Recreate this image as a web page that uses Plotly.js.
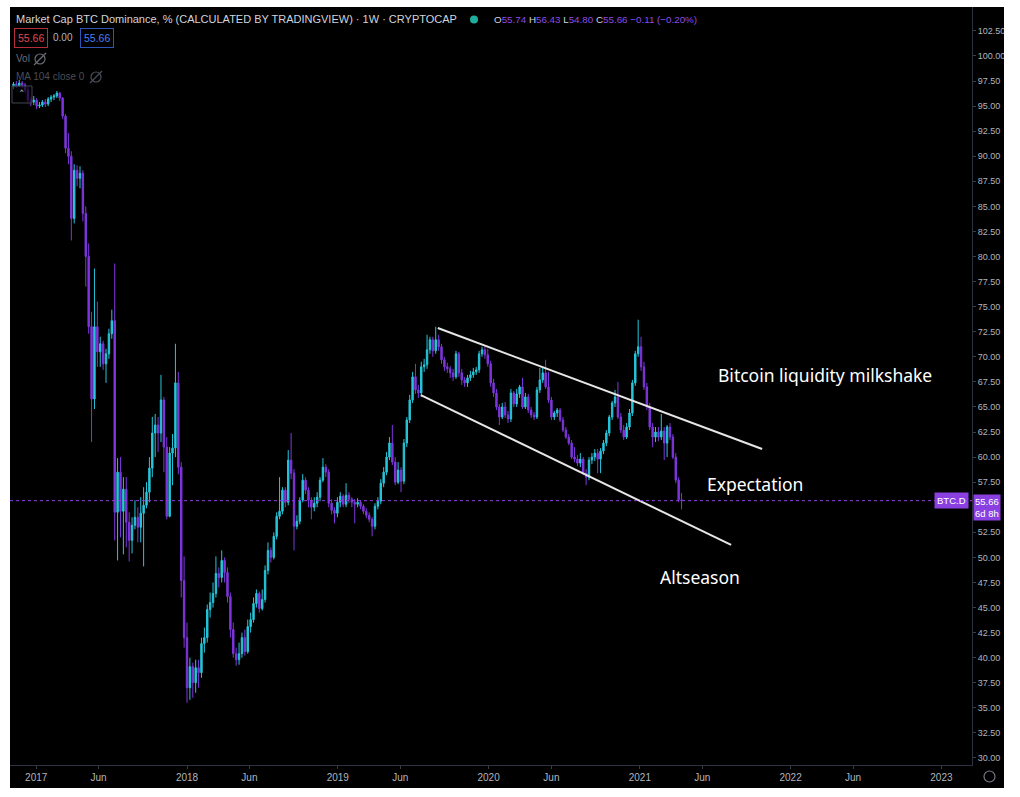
<!DOCTYPE html>
<html>
<head>
<meta charset="utf-8">
<script src="https://cdn.plot.ly/plotly-3.0.1.min.js"></script>
<style>
  html, body { margin: 0; padding: 0; background: #ffffff; width: 1020px; height: 797px; overflow: hidden; }
  #chart { position: absolute; left: 10px; top: 7px; width: 994px; height: 781px; background: #000; }
</style>
</head>
<body>
<div id="chart"></div>
<script>
// Weekly candles, first candle week of 2016-11-07
const firstWeek = '2016-11-07';
const openV = [96.9,97.2,97.0,97.3,97.1,96.6,95.6,95.4,95.6,95.0,95.1,95.4,95.2,95.7,95.9,96.0,96.3,95.8,94.0,90.8,90.0,83.8,88.6,87.8,88.3,84.3,80.0,73.0,65.8,73.0,70.5,71.3,69.3,70.3,72.3,73.6,54.5,58.5,54.6,56.8,53.5,51.7,53.2,54.0,53.0,54.4,55.2,56.5,58.9,62.4,63.2,62.4,65.7,61.0,54.1,60.4,60.9,67.4,59.0,47.7,42.0,37.0,39.1,37.5,39.0,38.5,41.4,42.0,44.8,45.5,46.4,48.4,48.0,49.7,48.5,46.1,42.8,40.4,39.8,40.4,42.0,40.6,43.1,43.8,45.4,46.4,44.9,45.8,48.7,50.7,50.0,52.1,54.1,54.6,56.7,55.5,59.7,58.4,53.1,53.6,55.7,57.7,56.7,55.7,55.0,55.4,56.0,57.7,59.0,58.5,55.4,54.7,54.4,55.5,56.1,55.3,56.2,55.8,55.5,55.3,55.5,55.1,54.6,54.2,53.8,53.1,55.1,55.6,57.4,58.5,60.0,61.4,59.5,57.5,58.7,57.6,61.4,63.7,65.7,68.0,66.7,66.4,69.0,69.2,70.7,71.7,70.6,71.7,71.0,69.7,69.0,68.8,68.4,68.0,70.3,68.4,67.7,67.4,67.9,68.2,68.5,68.7,70.3,70.7,70.2,69.3,67.4,66.4,65.0,64.0,65.0,64.2,63.8,66.4,65.3,66.3,67.0,65.0,66.0,64.7,64.2,64.0,66.7,67.7,68.4,67.0,65.7,64.0,64.4,64.7,63.7,62.7,62.0,61.4,60.0,59.8,59.4,59.8,58.4,58.0,59.7,60.0,60.4,59.8,60.6,61.4,62.4,64.0,65.4,66.0,64.0,62.7,62.0,63.0,64.4,67.4,70.3,71.0,69.0,67.0,65.0,63.0,62.0,62.5,62.0,62.6,61.4,63.0,62.0,60.0,57.7,55.74];
const highV = [97.4,97.5,97.6,97.5,97.3,96.9,95.9,96.0,95.8,95.4,95.6,95.7,95.9,96.1,96.2,96.5,96.4,95.9,94.2,92.3,90.5,89.2,89.1,89.0,88.6,85.0,81.3,74.5,78.8,75.5,72.0,71.6,70.8,72.8,74.7,79.3,59.9,60.0,58.0,58.0,54.5,54.0,55.7,55.0,56.0,57.0,57.5,60.0,64.0,64.3,64.0,68.2,66.0,62.0,61.0,62.3,71.3,68.5,59.5,50.1,43.5,40.0,39.5,39.8,39.8,42.0,43.0,45.3,46.5,47.5,50.1,49.0,50.7,50.0,49.0,46.5,43.5,41.0,41.5,42.5,42.8,43.8,44.5,46.0,46.8,46.6,46.8,49.2,51.5,51.0,52.5,54.5,58.0,57.0,57.0,60.7,62.4,58.8,54.2,56.0,58.3,58.0,57.0,56.0,56.0,56.5,58.0,59.9,59.3,58.8,55.8,55.0,56.0,56.5,56.3,57.4,56.5,56.0,55.8,55.9,55.7,55.3,54.9,54.5,54.0,55.4,56.0,57.8,59.0,60.5,62.0,63.2,60.0,59.5,59.0,61.8,64.0,66.2,68.5,69.3,67.2,69.5,69.8,72.2,72.0,72.0,73.0,72.2,71.3,70.0,69.4,69.1,68.8,70.6,70.5,68.8,68.0,68.2,68.6,68.9,69.0,70.6,71.0,71.0,70.8,69.6,67.8,66.8,65.3,65.4,65.5,64.6,66.8,66.6,66.8,67.2,67.9,66.4,66.3,65.0,64.5,67.0,68.9,68.9,69.7,68.5,66.0,64.6,64.9,64.9,64.0,63.0,62.3,61.7,61.0,60.2,60.4,60.0,58.8,60.0,60.4,60.8,60.8,60.9,61.7,62.7,64.2,65.6,66.7,67.5,64.4,63.2,63.4,64.8,67.7,70.6,73.7,72.0,69.5,67.4,65.4,63.4,63.0,63.0,64.3,63.0,63.2,63.4,62.3,60.4,58.0,56.43];
const lowV = [96.7,96.8,96.9,96.8,96.3,95.3,95.0,95.1,94.7,94.8,94.9,94.9,95.0,95.4,95.6,95.8,95.5,93.7,90.3,89.2,81.6,83.3,87.0,86.8,83.5,77.0,72.3,61.5,64.8,69.0,69.0,68.7,67.4,69.8,71.8,51.7,49.7,52.0,50.3,51.0,49.6,50.4,52.8,51.5,51.5,49.1,54.9,55.5,58.0,60.0,60.5,61.5,58.5,53.8,54.0,57.2,60.0,58.3,46.0,41.0,35.5,35.8,36.0,36.5,37.0,38.0,40.5,41.5,44.0,45.0,46.0,47.0,47.5,47.5,45.5,42.0,40.0,39.2,39.3,40.0,40.2,40.4,42.5,43.5,45.0,44.5,44.7,45.5,48.3,49.5,49.8,51.8,53.8,54.3,55.0,55.2,57.8,50.7,52.8,53.3,55.5,56.3,55.0,53.8,54.6,55.0,55.6,57.5,58.0,55.0,54.3,53.4,54.0,55.0,55.0,55.0,55.4,55.0,53.4,55.0,54.8,54.3,53.9,53.5,52.1,52.8,54.8,55.3,57.0,58.2,59.7,59.2,57.2,57.3,56.5,57.3,61.0,63.4,65.4,66.3,65.9,66.0,68.5,68.8,70.3,70.0,70.3,70.6,69.3,68.6,68.4,67.9,67.6,67.8,68.0,67.2,67.0,67.0,67.6,67.9,68.2,68.4,70.0,69.8,69.0,67.0,66.0,64.7,63.2,63.8,63.9,63.4,63.5,65.0,65.0,65.9,64.8,64.8,64.4,63.9,63.7,63.8,66.4,67.4,66.8,65.4,63.7,63.7,64.0,63.5,62.5,61.8,61.2,59.8,59.5,59.1,59.0,58.2,57.2,57.7,59.3,59.6,58.4,58.4,60.3,61.1,62.1,63.7,65.0,63.8,62.4,61.7,61.8,62.7,64.1,67.1,70.0,68.6,66.7,64.7,62.7,61.0,61.5,61.6,61.7,59.7,60.0,61.7,59.8,57.4,55.5,54.80];
const closeV = [97.2,97.0,97.3,97.1,96.6,95.6,95.4,95.6,95.0,95.1,95.4,95.2,95.7,95.9,96.0,96.3,95.8,94.0,90.8,90.0,83.8,88.6,87.8,88.3,84.3,80.0,73.0,65.8,73.0,70.5,71.3,69.3,70.3,72.3,73.6,54.5,58.5,54.6,56.8,53.5,51.7,53.2,54.0,53.0,54.4,55.2,56.5,58.9,62.4,63.2,62.4,65.7,61.0,54.1,60.4,60.9,67.4,59.0,47.7,42.0,37.0,39.1,37.5,39.0,38.5,41.4,42.0,44.8,45.5,46.4,48.4,48.0,49.7,48.5,46.1,42.8,40.4,39.8,40.4,42.0,40.6,43.1,43.8,45.4,46.4,44.9,45.8,48.7,50.7,50.0,52.1,54.1,54.6,56.7,55.5,59.7,58.4,53.1,53.6,55.7,57.7,56.7,55.7,55.0,55.4,56.0,57.7,59.0,58.5,55.4,54.7,54.4,55.5,56.1,55.3,56.2,55.8,55.5,55.3,55.5,55.1,54.6,54.2,53.8,53.1,55.1,55.6,57.4,58.5,60.0,61.4,59.5,57.5,58.7,57.6,61.4,63.7,65.7,68.0,66.7,66.4,69.0,69.2,70.7,71.7,70.6,71.7,71.0,69.7,69.0,68.8,68.4,68.0,70.3,68.4,67.7,67.4,67.9,68.2,68.5,68.7,70.3,70.7,70.2,69.3,67.4,66.4,65.0,64.0,65.0,64.2,63.8,66.4,65.3,66.3,67.0,65.0,66.0,64.7,64.2,64.0,66.7,67.7,68.4,67.0,65.7,64.0,64.4,64.7,63.7,62.7,62.0,61.4,60.0,59.8,59.4,59.8,58.4,58.0,59.7,60.0,60.4,59.8,60.6,61.4,62.4,64.0,65.4,66.0,64.0,62.7,62.0,63.0,64.4,67.4,70.3,71.0,69.0,67.0,65.0,63.0,62.0,62.5,62.0,62.6,61.4,63.0,62.0,60.0,57.7,55.74,55.66];

// Drawn channel (annotation lines)
const upperChannelDates = ['2019-08-31', '2021-10-24'];
const upperChannelValues = [72.87, 60.81];
const lowerChannelDates = ['2019-07-21', '2021-08-10'];
const lowerChannelValues = [66.19, 51.24];

// Axis ticks (55.00 sits under the last-price label)
const xTickVals = ['2017-01-01','2017-06-01','2018-01-01','2018-06-01','2019-01-01','2019-06-01','2020-01-01','2020-06-01','2021-01-01','2021-06-01','2022-01-01','2022-06-01','2023-01-01'];
const xTickText = ['2017','Jun','2018','Jun','2019','Jun','2020','Jun','2021','Jun','2022','Jun','2023'];
const yTickVals = [30,32.5,35,37.5,40,42.5,45,47.5,50,52.5,57.5,60,62.5,65,67.5,70,72.5,75,77.5,80,82.5,85,87.5,90,92.5,95,97.5,100,102.5];
const lastPrice = 55.66;

// weekly dates
const dates = [];
{
  const d0 = new Date(firstWeek + 'T00:00:00Z');
  for (let i = 0; i < closeV.length; i++) {
    const d = new Date(d0.getTime() + i * 7 * 86400000);
    dates.push(d.toISOString().slice(0, 10));
  }
}

const UP = '#26c6da';
const DOWN = '#7e36dc';
const PURPLE = '#8a3fe0';

const traces = [
  {
    type: 'candlestick',
    x: dates, open: openV, high: highV, low: lowV, close: closeV,
    increasing: { line: { color: UP, width: 1 }, fillcolor: UP },
    decreasing: { line: { color: DOWN, width: 1 }, fillcolor: DOWN },
    whiskerwidth: 0,
    hoverinfo: 'skip',
    showlegend: false
  },
  {
    type: 'scatter', mode: 'lines', x: upperChannelDates, y: upperChannelValues,
    line: { color: '#e6e6e6', width: 2 }, hoverinfo: 'skip', showlegend: false
  },
  {
    type: 'scatter', mode: 'lines', x: lowerChannelDates, y: lowerChannelValues,
    line: { color: '#e6e6e6', width: 2 }, hoverinfo: 'skip', showlegend: false
  }
];

// pixel helpers (page pixels -> paper fraction); plot area spans page x 10..972, y 7..765
const px = v => (v - 10) / 962;
const py = v => (765 - v) / 758;

const hdrFont = 'Liberation Sans, Arial, sans-serif';
const annFont = 'Noto Sans, Open Sans, sans-serif';
const NUM = '#8e4be6';

const annotations = [
  { xref: 'paper', yref: 'paper', x: px(14), y: py(19), xanchor: 'left', yanchor: 'middle', showarrow: false,
    text: 'Market Cap BTC Dominance, % (CALCULATED BY TRADINGVIEW) · 1W · CRYPTOCAP',
    font: { family: hdrFont, size: 11, color: '#d1d4dc' } },
  { xref: 'paper', yref: 'paper', x: px(492), y: py(19), xanchor: 'left', yanchor: 'middle', showarrow: false,
    text: 'O<span style="color:' + NUM + '">55.74</span> H<span style="color:' + NUM + '">56.43</span> L<span style="color:' + NUM + '">54.80</span> C<span style="color:' + NUM + '">55.66</span> <span style="color:' + NUM + '">−0.11 (−0.20%)</span>',
    font: { family: hdrFont, size: 9.8, color: '#d1d4dc' } },
  { xref: 'paper', yref: 'paper', x: px(30.5), y: py(38), xanchor: 'center', yanchor: 'middle', showarrow: false,
    text: '55.66', font: { family: hdrFont, size: 10.5, color: '#e2454f' },
    bordercolor: '#b3303a', borderwidth: 1, borderpad: 3, bgcolor: '#000' },
  { xref: 'paper', yref: 'paper', x: px(63), y: py(38), xanchor: 'center', yanchor: 'middle', showarrow: false,
    text: '0.00', font: { family: hdrFont, size: 10, color: '#b2b5be' } },
  { xref: 'paper', yref: 'paper', x: px(96.5), y: py(38), xanchor: 'center', yanchor: 'middle', showarrow: false,
    text: '55.66', font: { family: hdrFont, size: 10.5, color: '#4a7df0' },
    bordercolor: '#2f55b8', borderwidth: 1, borderpad: 3, bgcolor: '#000' },
  { xref: 'paper', yref: 'paper', x: px(14), y: py(59), xanchor: 'left', yanchor: 'middle', showarrow: false,
    text: 'Vol', font: { family: hdrFont, size: 10, color: '#6a6d78' } },
  { xref: 'paper', yref: 'paper', x: px(14), y: py(77), xanchor: 'left', yanchor: 'middle', showarrow: false,
    text: 'MA 104 close 0', font: { family: hdrFont, size: 10, color: '#4a4d57' } },
  { xref: 'paper', yref: 'paper', x: px(22), y: py(95), xanchor: 'center', yanchor: 'middle', showarrow: false,
    text: '˄', font: { family: 'DejaVu Sans, sans-serif', size: 11, color: '#b2b5be' } },
  { xref: 'paper', yref: 'paper', x: px(716), y: py(375), xanchor: 'left', yanchor: 'middle', showarrow: false,
    text: 'Bitcoin liquidity milkshake', font: { family: annFont, size: 17.5, color: '#ffffff' } },
  { xref: 'paper', yref: 'paper', x: px(705), y: py(484), xanchor: 'left', yanchor: 'middle', showarrow: false,
    text: 'Expectation', font: { family: annFont, size: 17.5, color: '#ffffff' } },
  { xref: 'paper', yref: 'paper', x: px(658), y: py(577), xanchor: 'left', yanchor: 'middle', showarrow: false,
    text: 'Altseason', font: { family: annFont, size: 17.5, color: '#ffffff' } },
  { xref: 'paper', yref: 'y', x: px(969), y: lastPrice, xanchor: 'right', yanchor: 'middle', showarrow: false,
    text: 'BTC.D', font: { family: hdrFont, size: 9.5, color: '#ffffff' }, bgcolor: PURPLE, borderpad: 2 },
  { xref: 'paper', yref: 'y', x: px(973), y: lastPrice, xanchor: 'left', yanchor: 'top', yshift: 7, showarrow: false,
    align: 'left',
    text: '55.66<br>6d 8h', font: { family: hdrFont, size: 9.5, color: '#ffffff' }, bgcolor: PURPLE, borderpad: 1 }
];

const shapes = [
  // last price dotted line
  { type: 'line', xref: 'paper', yref: 'y', x0: 0, x1: 1, y0: lastPrice, y1: lastPrice,
    line: { color: PURPLE, width: 1, dash: 'dot' } },
  // header status dot
  { type: 'circle', xref: 'paper', yref: 'paper', x0: px(470), x1: px(478), y0: py(23.5), y1: py(15.5),
    fillcolor: '#1fae9d', line: { width: 0 } },
  // eye-slash icons
  { type: 'circle', xref: 'paper', yref: 'paper', x0: px(35), x1: px(45), y0: py(64), y1: py(54),
    line: { color: '#6a6d78', width: 1.2 } },
  { type: 'line', xref: 'paper', yref: 'paper', x0: px(34), x1: px(46), y0: py(65), y1: py(53),
    line: { color: '#6a6d78', width: 1.2 } },
  { type: 'circle', xref: 'paper', yref: 'paper', x0: px(91), x1: px(101), y0: py(82), y1: py(72),
    line: { color: '#4a4d57', width: 1.2 } },
  { type: 'line', xref: 'paper', yref: 'paper', x0: px(90), x1: px(102), y0: py(83), y1: py(71),
    line: { color: '#4a4d57', width: 1.2 } },
  // collapse button box
  { type: 'rect', xref: 'paper', yref: 'paper', x0: px(12), x1: px(32), y0: py(103), y1: py(86),
    line: { color: '#434651', width: 1 }, fillcolor: 'rgba(0,0,0,0.6)' },
  // gear icon
  { type: 'circle', xref: 'paper', yref: 'paper', x0: px(984), x1: px(995), y0: py(782), y1: py(771),
    line: { color: '#787b86', width: 1.2 } }
];

const layout = {
  width: 994, height: 781,
  margin: { l: 0, r: 32, t: 0, b: 23, pad: 0 },
  paper_bgcolor: '#000000',
  plot_bgcolor: '#000000',
  showlegend: false,
  dragmode: false,
  xaxis: {
    type: 'date',
    range: ['2016-10-29 14:00', '2023-03-16'],
    rangeslider: { visible: false },
    tickvals: xTickVals, ticktext: xTickText,
    tickfont: { family: hdrFont, size: 10, color: '#b2b5be' },
    showgrid: false, zeroline: false,
    showline: true, linecolor: '#2f3240', linewidth: 1, mirror: false,
    ticks: 'outside', ticklen: 3, tickcolor: '#3a3d48',
    fixedrange: true
  },
  yaxis: {
    side: 'right',
    range: [29.30, 104.88],
    tickvals: yTickVals,
    ticktext: yTickVals.map(v => v.toFixed(2)),
    tickfont: { family: hdrFont, size: 9, color: '#b2b5be' },
    ticklabelstandoff: 0,
    showgrid: false, zeroline: false,
    showline: true, linecolor: '#2f3240', linewidth: 1,
    ticks: 'outside', ticklen: 3, tickcolor: '#3a3d48',
    fixedrange: true
  },
  annotations: annotations,
  shapes: shapes
};

Plotly.newPlot('chart', traces, layout, { displayModeBar: false, staticPlot: true });
</script>
</body>
</html>
